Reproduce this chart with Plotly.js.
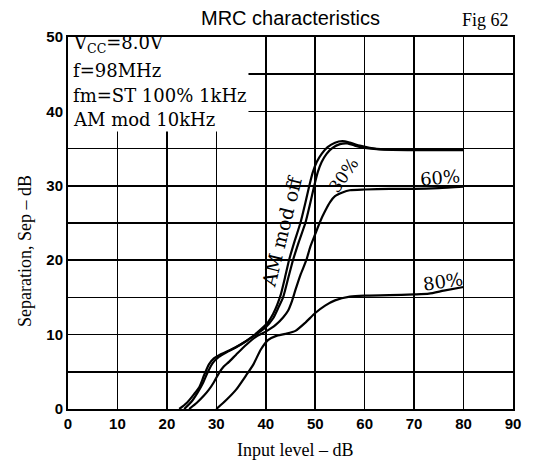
<!DOCTYPE html>
<html>
<head>
<meta charset="utf-8">
<script src="https://cdn.plot.ly/plotly-3.0.1.min.js"></script>
<style>html,body{margin:0;padding:0;background:#fff;}#chart{width:544px;height:463px;}</style>
</head>
<body>
<div id="chart"></div>
<script>
// Data
const amOffX = [22.5,24,25.5,26.6,27.5,28.5,29.5,31,33,35,37,39,40.5,41.5,42.3,43,44,44.7,45.8,47,48,48.8,49.5,50.3,51.3,52.5,54,55.5,57,59,61,64,70,80];
const amOffY = [0,0.8,2,3,4.5,6,6.8,7.4,8,8.7,9.6,10.7,11.7,12.8,14,15.3,18,20,22.5,25,27.7,30,31.8,33.2,34.3,35.2,35.8,36,35.8,35.4,35.1,34.9,34.9,34.9];
const m30X = [23.5,25,26.3,27.3,28.3,29.3,30.5,32,34,36,38,40,41.5,42.6,43.5,44.5,45.5,46.7,48,49,49.8,50.5,51.3,52.3,53.5,55,56.5,58,60,63,70,80];
const m30Y = [0,1,2.3,3.5,5,6.2,7,7.6,8.3,9.1,10,11,12.2,13.7,15,17.5,20,22.5,25,27.7,30,31.8,33.2,34.3,35.1,35.6,35.7,35.4,35.1,34.9,34.8,34.8];
const m60X = [24.5,26,27.5,28.5,29.5,30.5,31.5,32.5,34,36,38,40,42,43.5,44.5,45.3,46,47,48.2,49,50,51,52,53,54,55.5,57,60,65,70,75,80];
const m60Y = [0,0.8,1.8,2.6,3.6,4.8,5.7,6.3,7.3,8.6,9.7,10.4,11.3,12.3,13.2,14.5,16,18,20,21.8,23.5,25.2,26.6,27.8,28.6,29.1,29.4,29.5,29.6,29.6,29.7,29.9];
const m80X = [30,32,34,36,37.5,39,40.5,42,44,46,48,50,52,54,57,60,65,70,73,76,80];
const m80Y = [0,1.2,2.6,4.5,6,8,9.3,9.8,10.1,10.5,11.6,12.9,13.9,14.6,15.1,15.25,15.3,15.4,15.5,15.9,16.4];

const xTicks = [0,10,20,30,40,50,60,70,80,90];
const yGrid = [0,5,10,15,20,25,30,35,40,45,50];
const yLabels = ['0','','10','','20','','30','','40','','50'];
const boxLines = ["V<sub>CC</sub>=8.0V","f=98MHz","fm=ST 100% 1kHz","AM mod 10kHz"];
const boxLineY = [49.0,45.5,42.2,38.85];

function line(x,y){
  return {x:x,y:y,type:'scatter',mode:'lines',line:{color:'#000',width:2.2,shape:'spline',smoothing:0.6},hoverinfo:'skip',showlegend:false};
}
const traces = [line(amOffX,amOffY),line(m30X,m30Y),line(m60X,m60Y),line(m80X,m80Y)];

const serif = 'DejaVu Serif, serif';
const annotations = boxLines.map((t,i)=>({
  text:t, x:0.7, y:boxLineY[i], xref:'x', yref:'y', xanchor:'left', yanchor:'middle',
  showarrow:false, font:{family:serif,size:18,color:'#000'}
}));
annotations.push(
  {text:'AM mod off',x:43.2,y:23.8,xref:'x',yref:'y',textangle:-76,showarrow:false,font:{family:serif,size:19,color:'#000'}},
  {text:'30%',x:55.8,y:31.4,xref:'x',yref:'y',textangle:-55,showarrow:false,font:{family:serif,size:17,color:'#000'}},
  {text:'60%',x:75.2,y:31.1,xref:'x',yref:'y',textangle:-5,showarrow:false,font:{family:serif,size:18,color:'#000'}},
  {text:'80%',x:75.8,y:17.1,xref:'x',yref:'y',textangle:-8,showarrow:false,font:{family:serif,size:18,color:'#000'}},
  {text:'MRC characteristics',x:0.5,y:1,xref:'paper',yref:'paper',yanchor:'bottom',yshift:6,showarrow:false,font:{family:'Liberation Sans, Arial, sans-serif',size:20,color:'#000'}},
  {text:'Fig 62',x:0.995,y:1,xref:'paper',yref:'paper',xanchor:'right',yanchor:'bottom',yshift:5,showarrow:false,font:{family:'Liberation Serif, serif',size:18,color:'#000'}},
  {text:'Input level – dB',x:0.51,y:0,xref:'paper',yref:'paper',yanchor:'top',yshift:-29,showarrow:false,font:{family:'Liberation Serif, serif',size:18,color:'#000'}},
  {text:'Separation, Sep – dB',x:0,y:0.425,xref:'paper',yref:'paper',xanchor:'center',xshift:-43,textangle:-90,showarrow:false,font:{family:'Liberation Serif, serif',size:18,color:'#000'}}
);

const tf = {family:'Liberation Sans, Arial, sans-serif',size:15,color:'#000'};
const layout = {
  width:544,height:463,
  margin:{l:68,r:31,t:37,b:54},
  paper_bgcolor:'#fff',plot_bgcolor:'#fff',
  showlegend:false,
  xaxis:{range:[0,90],tickvals:xTicks,ticktext:xTicks.map(v=>'<b>'+v+'</b>'),showgrid:true,gridcolor:'#000',gridwidth:1.5,
    showline:true,linecolor:'#000',linewidth:2,mirror:true,ticks:'',zeroline:false,tickfont:tf,fixedrange:true},
  yaxis:{range:[0,50],tickvals:yGrid,ticktext:yLabels.map(v=>v?'<b>'+v+'</b>':''),showgrid:true,gridcolor:'#000',gridwidth:1.5,
    showline:true,linecolor:'#000',linewidth:2,mirror:true,ticks:'',zeroline:false,tickfont:tf,fixedrange:true},
  shapes:[{type:'rect',xref:'x',yref:'y',x0:0,x1:36.5,y0:37.3,y1:50,fillcolor:'#fff',line:{width:0},layer:'between'}],
  annotations:annotations
};
Plotly.newPlot('chart',traces,layout,{displayModeBar:false,staticPlot:true});
</script>
</body>
</html>
